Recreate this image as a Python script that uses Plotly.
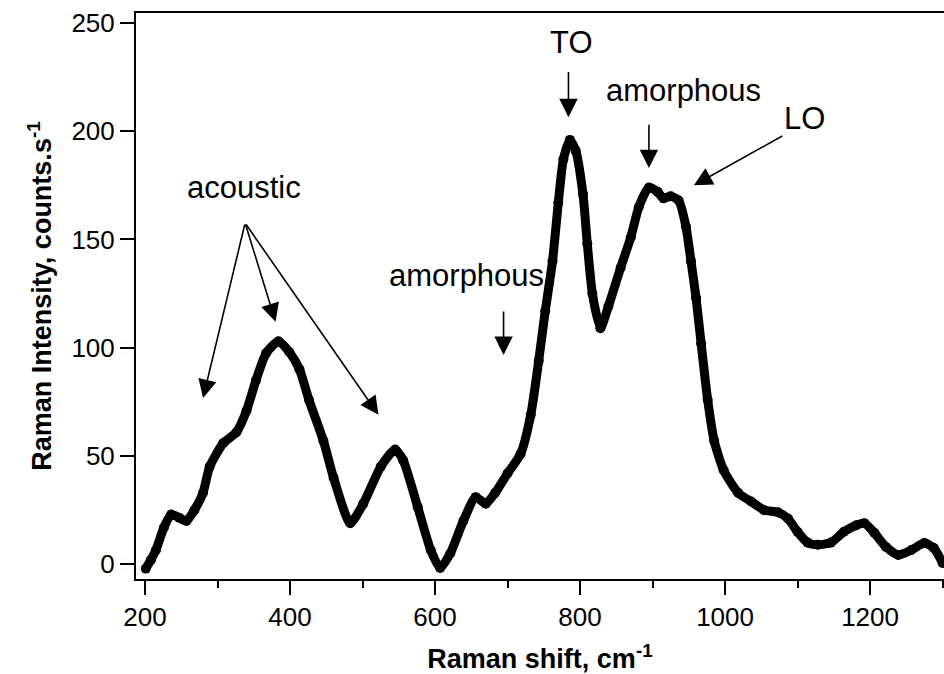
import plotly.graph_objects as go

# Raman shift (cm^-1) and intensity (counts/s)
shift = [201, 208, 215, 226, 236, 247, 257, 268, 280, 289, 308, 326, 340, 353, 367,
         384, 399, 413, 426, 446, 460, 483, 501, 525, 545, 556, 576, 594, 607, 621,
         639, 656, 670, 683, 700, 718, 732, 743, 752, 762, 770, 777, 786, 794, 804,
         810, 817, 828, 839, 856, 870, 881, 895, 907, 915, 925, 936, 946, 953, 960,
         967, 976, 985, 998, 1018, 1036, 1054, 1073, 1087, 1100, 1114, 1128, 1146,
         1164, 1181, 1192, 1206, 1222, 1239, 1257, 1275, 1288, 1300]
intensity = [-2, 2, 6.6, 17, 23, 21.5, 20, 25, 33, 45, 56, 61, 71, 85, 97.5,
             103, 98, 90, 76, 57, 40, 19, 28, 45, 53, 48, 26.5, 6.6, -1.7, 5,
             20, 31, 28, 33, 42, 51, 69, 94, 117, 140, 167, 187, 196, 191, 171,
             148, 125, 109, 119, 137, 151, 165, 174, 172, 169, 170, 168, 156, 140, 123,
             102, 76, 57, 43.5, 33, 29, 25, 24, 21, 15, 10, 9, 10,
             15, 18, 19, 14.5, 8, 4.3, 6.6, 9.8, 7.5, 0.6]

x_ticks = [200, 400, 600, 800, 1000, 1200]
y_ticks = [0, 50, 100, 150, 200, 250]

# labels: (text, x, y)
labels = [("acoustic", 336, 174), ("amorphous", 643, 133.6), ("TO", 788, 241),
          ("amorphous", 942, 219), ("LO", 1109, 206)]
# arrows: (tail_x, tail_y, head_x, head_y)
arrows = [(338, 157.6, 280, 76.8), (338, 157.6, 380, 112), (338, 157.6, 522, 69),
          (694.5, 117.4, 694.5, 96.7), (784, 228, 784, 206.5),
          (895, 203.7, 895, 183), (1081, 198.2, 957, 175)]

FONT = "Liberation Sans, Arial, sans-serif"

fig = go.Figure()
fig.add_trace(go.Scatter(
    x=shift, y=intensity, mode="lines+markers",
    line=dict(color="black", width=9, shape="spline", smoothing=0.6),
    marker=dict(color="black", size=10),
    showlegend=False, hoverinfo="skip"))

for t, x, y in labels:
    fig.add_annotation(x=x, y=y, xref="x", yref="y", text=t, showarrow=False,
                       font=dict(family=FONT, size=31, color="black"))
for tx, ty, hx, hy in arrows:
    fig.add_annotation(x=hx, y=hy, ax=tx, ay=ty, xref="x", yref="y",
                       axref="x", ayref="y", text="", showarrow=True,
                       arrowhead=2, arrowsize=2.3, arrowwidth=1.6,
                       arrowcolor="black", standoff=0, startstandoff=0)

fig.update_layout(
    width=944, height=674,
    margin=dict(l=136, r=0, t=13, b=95),
    paper_bgcolor="white", plot_bgcolor="white",
    font=dict(family=FONT, color="black"),
    xaxis=dict(range=[187.5, 1302], tickvals=x_ticks, ticks="outside",
               ticklen=14, tickwidth=2, tickcolor="black",
               minor=dict(dtick=100, tick0=100, ticks="outside", ticklen=7,
                          tickwidth=2, tickcolor="black"),
               showline=True, linecolor="black", linewidth=2, mirror=True,
               showgrid=False, zeroline=False,
               tickfont=dict(family=FONT, size=26, color="black"),
               title=dict(text="<b>Raman shift, cm<sup>-1</sup></b>",
                          font=dict(family=FONT, size=27, color="black"),
                          standoff=18)),
    yaxis=dict(range=[-6.8, 254.6], tickvals=y_ticks, ticks="outside",
               ticklen=14, tickwidth=2, tickcolor="black",
               showline=True, linecolor="black", linewidth=2,
               showgrid=False, zeroline=False,
               tickfont=dict(family=FONT, size=26, color="black"),
               title=dict(text="<b>Raman Intensity, counts.s<sup>-1</sup></b>",
                          font=dict(family=FONT, size=27, color="black"),
                          standoff=12)),
)

fig.write_html("out.html")
